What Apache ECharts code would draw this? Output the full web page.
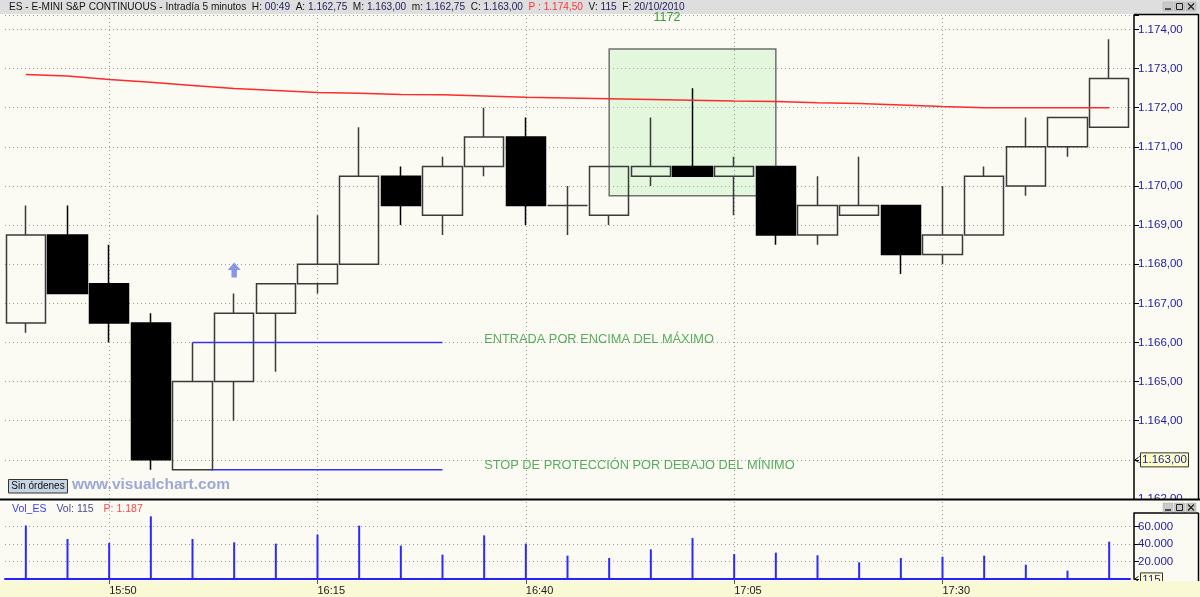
<!DOCTYPE html>
<html><head><meta charset="utf-8">
<script src="https://cdn.jsdelivr.net/npm/echarts@6/dist/echarts.min.js"></script>
<style>html,body{margin:0;padding:0;background:#fbfbf3}#c{width:1200px;height:597px}</style>
</head><body><div id="c"></div>
<script>
// ---------- data ----------
const categories = ['15:40','15:45','15:50','15:55','16:00','16:05','16:10','16:15','16:20','16:25','16:30','16:35','16:40','16:45','16:50','16:55','17:00','17:05','17:10','17:15','17:20','17:25','17:30','17:35','17:40','17:45','17:50'];
const opens  = [1166.5,1168.75,1167.5,1166.5,1162.75,1165,1166.75,1167.5,1168,1170.25,1169.25,1170.5,1171.25,1169.5,1169.25,1170.25,1170.5,1170.25,1170.5,1168.75,1169.25,1169.5,1168.25,1168.75,1170,1171,1171.5];
const closes = [1168.75,1167.25,1166.5,1163,1165,1166.75,1167.5,1168,1170.25,1169.5,1170.5,1171.25,1169.5,1169.5,1170.5,1170.5,1170.25,1170.5,1168.75,1169.5,1169.5,1168.25,1168.75,1170.25,1171,1171.75,1172.75];
const lows   = [1166.25,1167.25,1166,1162.75,1162.75,1164,1165.25,1167.25,1168,1169,1168.75,1170.25,1169,1168.75,1169,1170,1170.25,1169.25,1168.5,1168.5,1169.25,1167.75,1168,1168.75,1169.75,1170.75,1171.5];
const highs  = [1169.5,1169.5,1168.5,1166.75,1166,1167.25,1167.5,1169.25,1171.5,1170.5,1170.75,1172,1171.75,1170,1170.5,1171.75,1172.5,1170.75,1170.5,1170.25,1170.75,1169.5,1170,1170.5,1171.75,1171.75,1173.75];
const movingAvg = [1172.85,1172.81,1172.72,1172.65,1172.57,1172.49,1172.44,1172.39,1172.37,1172.34,1172.33,1172.30,1172.27,1172.25,1172.23,1172.21,1172.19,1172.17,1172.16,1172.13,1172.11,1172.07,1172.03,1172.0,1172.0,1172.0,1172.0];
const volumes = [61000,45600,41000,71400,45600,41800,40300,50500,60800,38000,27700,49700,40300,26600,23900,33800,46700,28500,30000,27000,19000,23900,25400,26600,16300,9500,42500];
const timeTicks = ['15:50','16:15','16:40','17:05','17:30'];
const priceTicks = {min: 1162, max: 1174.37, step: 1};
const volTicks = [20000, 40000, 60000];
const boxFrom = '16:50', boxTo = '17:10', boxTop = 1173.5, boxBottom = 1169.75;
const entryLevel = 1166, entryFrom = 4, entryTo = 10;
const stopLevel = 1162.75, stopFrom = 4.45, stopTo = 10;
const arrowPoint = [5, 1167.85];
const notes = [[11, 1166.08, 'ENTRADA POR ENCIMA DEL MÁXIMO'], [11, 1162.85, 'STOP DE PROTECCIÓN POR DEBAJO DEL MÍNIMO']];
const lastClose = 1163.00, lastVolume = 115;

// ---------- helpers ----------
const thou = s => s.replace(/\B(?=(\d{3})+(?!\d))/g, '.');
const fmtPrice = v => { const p = v.toFixed(2).split('.'); return thou(p[0]) + ',' + p[1]; };
const fmtVol = v => thou(String(Math.round(v)));
const isLabelIdx = i => i >= 2 && (i - 2) % 5 === 0;
const FONT = 'Liberation Sans, Arial, sans-serif';
const BG = '#fbfbf3';
const dotted = {color: '#9a9a9a', type: [1, 3], width: 1};

const candleData = categories.map((_, i) => [opens[i], closes[i], lows[i], highs[i]]);
const vLines = timeTicks.map(t => ({xAxis: t}));

const rs = (color, size, lh) => ({color: color, fontSize: size, fontFamily: FONT, fontWeight: 'normal', lineHeight: lh});

const chart = echarts.init(document.getElementById('c'), null, {renderer: 'canvas'});
const option = {
  animation: false,
  backgroundColor: BG,
  textStyle: {fontFamily: FONT},
  title: [
    {left: 9, top: 0, z: 60, padding: 0,
     text: '{a|ES - E-MINI S&P CONTINUOUS - Intradía 5 minutos  H: }{b|00:49}{a|  A: }{b|1.162,75}{a|  M: }{b|1.163,00}{a|  m: }{b|1.162,75}{a|  C: }{b|1.163,00}{r|  P : 1.174,50}{a|  V: }{b|115}{a|  F: }{b|20/10/2010}',
     textStyle: {fontWeight: 'normal', rich: {
       a: rs('#141414', 10.1, 14), b: rs('#23235e', 10.1, 14), r: rs('#ff3434', 10.1, 14)}}},
    {left: 12, top: 500, z: 60, padding: 0,
     text: '{a|Vol_ES}  {b|Vol: 115}  {r|P: 1.187}',
     textStyle: {fontWeight: 'normal', rich: {
       a: rs('#3c3cf0', 10.5, 12), b: rs('#4a4a98', 10.5, 12), r: rs('#ff4848', 10.5, 12)}}}
  ],
  grid: [
    {left: 5, width: 1125, top: 15, height: 484},
    {left: 5, width: 1125, top: 500, height: 79}
  ],
  xAxis: [
    {gridIndex: 0, type: 'category', data: categories, boundaryGap: true, show: false},
    {gridIndex: 1, type: 'category', data: categories, boundaryGap: true, z: 90,
     axisLine: {show: true, lineStyle: {color: '#2323ff', width: 2}},
     axisTick: {show: true, alignWithLabel: true, interval: isLabelIdx, length: 5, lineStyle: {color: '#555'}},
     axisLabel: {interval: isLabelIdx, align: 'left', color: '#202020', fontSize: 11, margin: 6, fontFamily: FONT},
     splitLine: {show: false}},
    {gridIndex: 0, type: 'value', min: -0.5, max: categories.length - 0.5, show: false}
  ],
  yAxis: [
    {gridIndex: 0, type: 'value', position: 'right', offset: 4,
     min: priceTicks.min, max: priceTicks.max, interval: priceTicks.step,
     axisLine: {show: true, onZero: false, lineStyle: {color: '#000', width: 1.5}},
     axisTick: {show: true, length: 5, lineStyle: {color: '#000'}},
     axisLabel: {color: '#1c1ca0', fontSize: 11.5, margin: 4, fontFamily: FONT,
       formatter: v => Math.abs(v - Math.round(v)) < 1e-6 ? fmtPrice(v) : ''},
     splitLine: {show: true, lineStyle: dotted}},
    {gridIndex: 1, type: 'value', position: 'right', offset: 4,
     min: 0, max: 90000, interval: 20000,
     axisLine: {show: true, onZero: false, lineStyle: {color: '#000', width: 1.5}},
     axisTick: {show: true, length: 5, lineStyle: {color: '#000'}},
     axisLabel: {color: '#1c1ca0', fontSize: 11.5, margin: 4, fontFamily: FONT,
       formatter: v => volTicks.indexOf(v) >= 0 ? fmtVol(v) : ''},
     splitLine: {show: false}}
  ],
  series: [
    {type: 'candlestick', xAxisIndex: 0, yAxisIndex: 0, data: candleData, barWidth: 40, z: 3, silent: true,
     itemStyle: {color: 'transparent', color0: '#000', borderColor: '#3a3a3a', borderColor0: '#000', borderWidth: 1.5},
     markArea: {silent: true, z: 1,
       itemStyle: {color: 'rgba(150,235,150,0.25)', borderColor: '#707070', borderWidth: 1.5},
       data: [[{xAxis: boxFrom, yAxis: boxTop}, {xAxis: boxTo, yAxis: boxBottom}]]},
     markLine: {silent: true, z: 1, symbol: ['none', 'none'], label: {show: false}, lineStyle: dotted, data: vLines}},
    {type: 'line', xAxisIndex: 0, yAxisIndex: 0, data: movingAvg, symbol: 'none', silent: true, z: 4,
     lineStyle: {color: '#ff2a2a', width: 1.5}},
    {type: 'line', xAxisIndex: 2, yAxisIndex: 0, data: [[entryFrom, entryLevel], [entryTo, entryLevel]], symbol: 'none', silent: true, z: 4,
     lineStyle: {color: '#3535e6', width: 1.5}},
    {type: 'line', xAxisIndex: 2, yAxisIndex: 0, data: [[stopFrom, stopLevel], [stopTo, stopLevel]], symbol: 'none', silent: true, z: 4,
     lineStyle: {color: '#3535e6', width: 1.5}},
    {type: 'scatter', xAxisIndex: 2, yAxisIndex: 0, data: [arrowPoint], silent: true, z: 5,
     symbol: 'path://M6,0 L12,7 L8.5,7 L8.5,14 L3.5,14 L3.5,7 L0,7 Z', symbolSize: [13, 15],
     itemStyle: {color: '#6b80e6'}},
    {type: 'scatter', xAxisIndex: 2, yAxisIndex: 0, data: notes, symbolSize: 0, silent: true, z: 5,
     label: {show: true, position: 'right', distance: 0, formatter: p => p.data[2],
       color: '#2f9a3a', fontSize: 12.8, fontFamily: FONT}},
    {type: 'bar', xAxisIndex: 1, yAxisIndex: 1, data: volumes, barWidth: 2, silent: true, z: 3,
     itemStyle: {color: '#2a2aff'},
     markLine: {silent: true, z: 1, symbol: ['none', 'none'], label: {show: false}, lineStyle: dotted,
       data: vLines.concat(volTicks.map(v => ({yAxis: v})))}}
  ]
};
chart.setOption(option);

const yLast = chart.convertToPixel({yAxisIndex: 0}, lastClose);
const yVol = chart.convertToPixel({yAxisIndex: 1}, lastVolume);

function icons(y, z) {
  const out = [];
  const xs = [1163, 1174.5, 1186];
  xs.forEach((x, k) => {
    out.push({type: 'rect', z: z, shape: {x: x, y: y, width: 10, height: 9}, style: {fill: '#c9c9c9', stroke: '#a8a8a8', lineWidth: 0.5}});
  });
  out.push({type: 'line', z: z + 1, shape: {x1: 1165, y1: y + 7, x2: 1171, y2: y + 7}, style: {stroke: '#222', lineWidth: 1.5}});
  out.push({type: 'rect', z: z + 1, shape: {x: 1176.5, y: y + 1.5, width: 6, height: 6}, style: {fill: 'none', stroke: '#222', lineWidth: 1}});
  out.push({type: 'line', z: z + 1, shape: {x1: 1188, y1: y + 1.5, x2: 1194, y2: y + 7.5}, style: {stroke: '#222', lineWidth: 1.3}});
  out.push({type: 'line', z: z + 1, shape: {x1: 1194, y1: y + 1.5, x2: 1188, y2: y + 7.5}, style: {stroke: '#222', lineWidth: 1.3}});
  return out;
}

const g = [
  {type: 'rect', z: 50, shape: {x: 0, y: 0, width: 1200, height: 14}, style: {fill: '#dedede'}},
  {type: 'rect', z: 80, shape: {x: 0, y: 581, width: 1200, height: 16}, style: {fill: '#f9f9d6'}},
  {type: 'line', z: 52, shape: {x1: 1134, y1: 14.5, x2: 1198.5, y2: 14.5}, style: {stroke: '#000', lineWidth: 1.5}},
  {type: 'line', z: 52, shape: {x1: 1198.5, y1: 14, x2: 1198.5, y2: 499}, style: {stroke: '#000', lineWidth: 1.5}},
  {type: 'rect', z: 55, shape: {x: 1133, y: 500, width: 67, height: 12.5}, style: {fill: BG}},
  {type: 'line', z: 60, shape: {x1: 0, y1: 499.5, x2: 1200, y2: 499.5}, style: {stroke: '#000', lineWidth: 2}},
  {type: 'line', z: 56, shape: {x1: 1134, y1: 513, x2: 1198.5, y2: 513}, style: {stroke: '#000', lineWidth: 1.5}},
  {type: 'line', z: 56, shape: {x1: 1198.5, y1: 513, x2: 1198.5, y2: 581}, style: {stroke: '#000', lineWidth: 1.5}},
  {type: 'text', z: 51, style: {text: '1172', x: 667, y: 18, align: 'center', verticalAlign: 'middle', fill: '#35a035', font: '12.5px ' + FONT}},
  {type: 'rect', z: 50, shape: {x: 8.5, y: 479.5, width: 59, height: 13.5}, style: {fill: '#c6d4e4', stroke: '#333', lineWidth: 1}},
  {type: 'text', z: 51, style: {text: 'Sin órdenes', x: 38, y: 486.5, align: 'center', verticalAlign: 'middle', fill: '#111', font: '10px ' + FONT}},
  {type: 'text', z: 51, style: {text: 'www.visualchart.com', x: 72, y: 485, align: 'left', verticalAlign: 'middle', fill: '#9ea8d6', font: 'bold 15.5px ' + FONT}},
  {type: 'polyline', z: 70, shape: {points: [[1138.5, yLast - 2.5], [1135, yLast], [1138.5, yLast + 2.5]]}, style: {stroke: '#000', fill: 'none', lineWidth: 1}},
  {type: 'rect', z: 70, shape: {x: 1140.5, y: yLast - 7, width: 48, height: 14}, style: {fill: '#ffffc4', stroke: '#333', lineWidth: 1}},
  {type: 'text', z: 71, style: {text: fmtPrice(lastClose), x: 1164.5, y: yLast, align: 'center', verticalAlign: 'middle', fill: '#1c1ca0', font: '11.5px ' + FONT}},
  {type: 'polyline', z: 70, shape: {points: [[1138.5, yVol - 2.5], [1135, yVol], [1138.5, yVol + 2.5]]}, style: {stroke: '#000', fill: 'none', lineWidth: 1}},
  {type: 'rect', z: 70, shape: {x: 1140.5, y: yVol - 6, width: 22, height: 14}, style: {fill: '#ffffc4', stroke: '#333', lineWidth: 1}},
  {type: 'text', z: 71, style: {text: String(lastVolume), x: 1151.5, y: yVol + 1, align: 'center', verticalAlign: 'middle', fill: '#1c1ca0', font: '11.5px ' + FONT}}
].concat(icons(2, 53)).concat(icons(503, 57));

chart.setOption({graphic: g});
</script>
</body></html>
